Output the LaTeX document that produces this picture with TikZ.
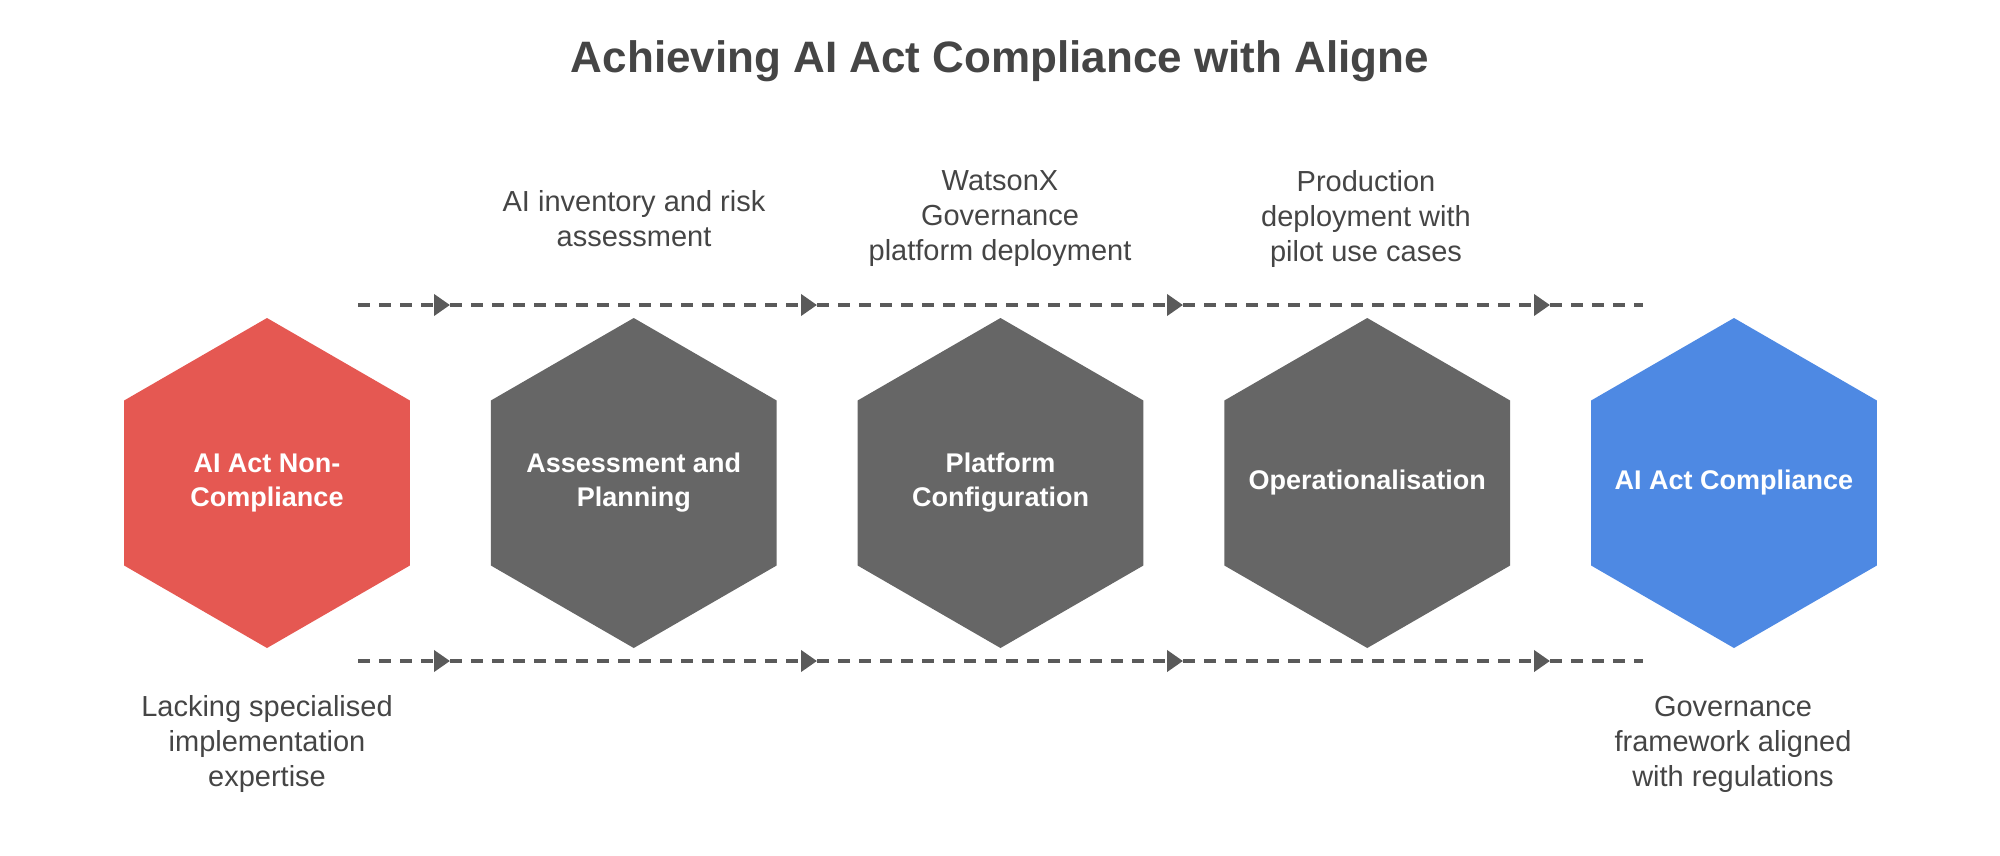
\documentclass[tikz,border=0pt]{standalone}
\usepackage{fontspec}
\setmainfont{Liberation Sans}
\usetikzlibrary{arrows.meta,positioning,shapes.geometric}

\definecolor{hexred}{HTML}{E55852}
\definecolor{hexgray}{HTML}{666666}
\definecolor{hexblue}{HTML}{4E89E3}
\definecolor{railgray}{HTML}{5A5A5A}
\definecolor{textgray}{HTML}{454545}

\begin{document}
\begin{tikzpicture}[x=1pt, y=-1pt, node distance=80.5pt,
    hexa/.style={regular polygon, regular polygon sides=6, shape border rotate=30, minimum size=330pt, inner sep=0pt},
    hexlabel/.style={text=white, font=\fontsize{27}{34}\selectfont\bfseries, align=center},
    note/.style={text=textgray, font=\fontsize{29}{35}\selectfont, align=center},
    rail/.style={draw=railgray, line width=4pt, dash pattern=on 12pt off 9pt},
    railarrow/.style={rail, -{Triangle[length=16pt, width=21pt]}}]
    \useasboundingbox (0,0) rectangle (2000,855);

    \node[text=textgray, font=\fontsize{44}{52}\selectfont\bfseries] (title) at (1000,61) {Achieving AI Act Compliance with Aligne};

    \node[hexa, fill=hexred, label={[hexlabel]center:AI Act Non-\\Compliance}] (noncomp) at (267,483) {};
    \node[hexa, fill=hexgray, right=of noncomp, label={[hexlabel]center:Assessment and\\Planning}] (assess) {};
    \node[hexa, fill=hexgray, right=of assess, label={[hexlabel]center:Platform\\Configuration}] (config) {};
    \node[hexa, fill=hexgray, right=of config, label={[hexlabel]center:Operationalisation}] (oper) {};
    \node[hexa, fill=hexblue, right=of oper, label={[hexlabel]center:AI Act Compliance}] (comp) {};

    \node[note] (assessnote) at (634,219) {AI inventory and risk\\assessment};
    \node[note] (confignote) at (1000,219) {WatsonX\\Governance\\platform deployment};
    \node[note] (opernote) at (1366,219) {Production\\deployment with\\pilot use cases};
    \node[note] (noncompnote) at (267,744) {Lacking specialised\\implementation\\expertise};
    \node[note] (compnote) at (1733,744) {Governance\\framework aligned\\with regulations};

    % upper rail
    \coordinate (up0) at (358,305);
    \coordinate (up1) at (450,305);
    \coordinate (up2) at (817,305);
    \coordinate (up3) at (1183,305);
    \coordinate (up4) at (1550,305);
    \coordinate (up5) at (1643,305);
    % lower rail
    \coordinate (lo0) at (358,661);
    \coordinate (lo1) at (450,661);
    \coordinate (lo2) at (817,661);
    \coordinate (lo3) at (1183,661);
    \coordinate (lo4) at (1550,661);
    \coordinate (lo5) at (1643,661);

    \draw[railarrow] (up0) -- (up1);
    \draw[railarrow] (up1) -- (up2);
    \draw[railarrow] (up2) -- (up3);
    \draw[railarrow] (up3) -- (up4);
    \draw[rail] (up4) -- (up5);
    \draw[railarrow] (lo0) -- (lo1);
    \draw[railarrow] (lo1) -- (lo2);
    \draw[railarrow] (lo2) -- (lo3);
    \draw[railarrow] (lo3) -- (lo4);
    \draw[rail] (lo4) -- (lo5);
  \end{tikzpicture}
\end{document}
